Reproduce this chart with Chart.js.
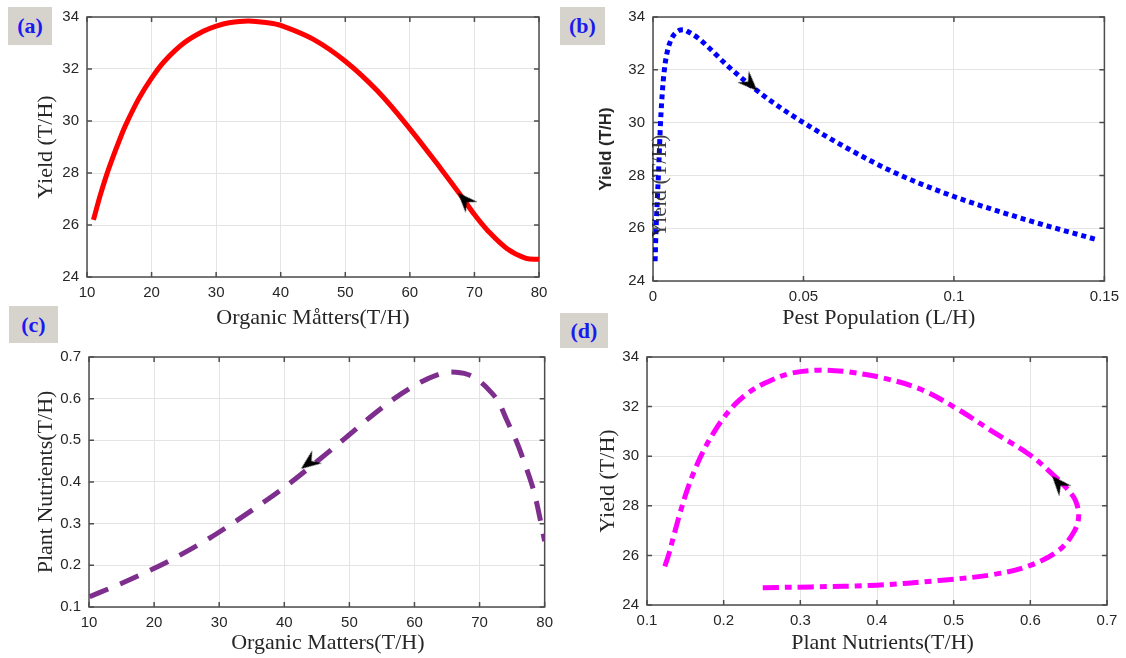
<!DOCTYPE html>
<html>
<head>
<meta charset="utf-8">
<script src="https://cdn.jsdelivr.net/npm/chart.js@4.4.1/dist/chart.umd.min.js"></script>
<style>
  body { margin: 0; background: #fff; width: 1126px; height: 658px; position: relative; overflow: hidden; }
  canvas { position: absolute; }
  .tag {
    position: absolute; background: #d6d3cd; color: #1a1af0;
    font: bold 22px "Liberation Serif", serif;
    display: flex; align-items: center; justify-content: center; z-index: 5;
  }
</style>
</head>
<body>
<div class="tag" style="left:8px;top:7px;width:44px;height:38px">(a)</div>
<div class="tag" style="left:560px;top:7px;width:45px;height:38px">(b)</div>
<div class="tag" style="left:9px;top:306px;width:49px;height:37px">(c)</div>
<div class="tag" style="left:560px;top:313px;width:48px;height:35px">(d)</div>

<canvas id="ga" width="527" height="331" style="left:33px;top:0px"></canvas>
<canvas id="gb" width="530" height="331" style="left:596px;top:0px"></canvas>
<canvas id="gc" width="527" height="316" style="left:33px;top:340px"></canvas>
<canvas id="gd" width="531" height="316" style="left:595px;top:340px"></canvas>

<script>
// (a) yield vs organic matters
const organicA = [11, 12, 13, 14, 15, 16, 18, 20, 22, 25, 28, 30, 32, 35, 38, 40, 45, 50, 55, 60, 65, 68, 70, 72, 75, 78, 80];
const yieldA = [26.2, 27.1, 27.9, 28.6, 29.25, 29.85, 30.85, 31.65, 32.3, 33.0, 33.45, 33.65, 33.78, 33.85, 33.78, 33.68, 33.15, 32.3, 31.15, 29.7, 28.1, 27.1, 26.4, 25.8, 25.1, 24.72, 24.68];
const arrowA = [68.5, 26.96];

// (b) yield vs pest population
const pestB = [0.0007, 0.001, 0.0014, 0.0018, 0.0025, 0.0032, 0.004, 0.005, 0.0065, 0.0085, 0.01, 0.012, 0.015, 0.018, 0.0248, 0.0325, 0.04, 0.05, 0.065, 0.0804, 0.1, 0.1246, 0.148];
const yieldB = [24.75, 25.9, 27.0, 28.0, 30.0, 31.3, 32.2, 32.8, 33.25, 33.48, 33.52, 33.42, 33.2, 32.9, 32.15, 31.4, 30.75, 30.0, 29.0, 28.1, 27.2, 26.3, 25.55];
const arrowB = [0.0323, 31.47];

// (c) plant nutrients vs organic matters
const organicC = [10.1, 14, 18.3, 22, 25.3, 28.5, 31.3, 35.5, 40.0, 44.3, 49.8, 53.6, 57.9, 61, 63.3, 65.5, 68.2, 70, 71.5, 73, 74.2, 75.6, 76.9, 78.5, 80];
const nutrientC = [0.125, 0.15, 0.18, 0.208, 0.236, 0.265, 0.293, 0.337, 0.387, 0.44, 0.511, 0.561, 0.611, 0.64, 0.656, 0.664, 0.658, 0.642, 0.62, 0.59, 0.548, 0.5, 0.446, 0.368, 0.258];
const arrowC = [43.8, 0.446];

// (d) yield vs plant nutrients
const nutrientD = [0.251, 0.315, 0.4, 0.481, 0.552, 0.6, 0.637, 0.656, 0.663, 0.659, 0.647, 0.628, 0.6, 0.552, 0.505, 0.457, 0.41, 0.362, 0.325, 0.287, 0.254, 0.232, 0.215, 0.2, 0.187, 0.175, 0.163, 0.152, 0.143, 0.135, 0.128, 0.1225];
const yieldD = [24.7, 24.73, 24.8, 24.99, 25.23, 25.6, 26.2, 26.9, 27.54, 28.2, 28.72, 29.3, 30.04, 30.97, 31.9, 32.7, 33.14, 33.4, 33.47, 33.34, 32.95, 32.55, 32.1, 31.55, 30.95, 30.3, 29.5, 28.6, 27.7, 26.8, 26.0, 25.5];
const arrowD = [0.637, 28.9];

// tick labels
const yieldTicks = [24, 26, 28, 30, 32, 34];
const organicTicks = [10, 20, 30, 40, 50, 60, 70, 80];
const pestTicks = [0, 0.05, 0.1, 0.15];
const nutrientTicks = [0.1, 0.2, 0.3, 0.4, 0.5, 0.6, 0.7];

Chart.defaults.font.family = '"Liberation Sans", Arial, sans-serif';
Chart.defaults.color = '#262626';

// black arrowhead pointing up, rotated per panel
const flecha = document.createElement('canvas');
flecha.width = 22; flecha.height = 22;
(function () {
    const g = flecha.getContext('2d');
    g.fillStyle = '#000';
    g.beginPath();
    g.moveTo(11, 1);
    g.lineTo(19, 21);
    g.lineTo(11, 14);
    g.lineTo(3, 21);
    g.closePath();
    g.fill();
})();

const cajaPlugin = {
    id: 'caja',
    beforeDatasetsDraw(chart) {
        const { ctx, chartArea: a, scales: { x, y } } = chart;
        ctx.save();
        ctx.strokeStyle = '#4d4d4d';
        ctx.lineWidth = 1.5;
        ctx.strokeRect(a.left, a.top, a.right - a.left, a.bottom - a.top);
        ctx.beginPath();
        x.ticks.forEach(t => {
            const p = x.getPixelForValue(t.value);
            ctx.moveTo(p, a.bottom); ctx.lineTo(p, a.bottom - 5);
            ctx.moveTo(p, a.top); ctx.lineTo(p, a.top + 5);
        });
        y.ticks.forEach(t => {
            const p = y.getPixelForValue(t.value);
            ctx.moveTo(a.left, p); ctx.lineTo(a.left + 5, p);
            ctx.moveTo(a.right, p); ctx.lineTo(a.right - 5, p);
        });
        ctx.stroke();
        ctx.restore();
    }
};

function puntos(xs, ys) {
    return xs.map((v, i) => ({ x: v, y: ys[i] }));
}

function eje(ticks, titulo, fuenteTitulo, tam, padTick) {
    return {
        type: 'linear',
        min: ticks[0],
        max: ticks[ticks.length - 1],
        afterBuildTicks: s => { s.ticks = ticks.map(v => ({ value: v })); },
        afterFit: s => { if (s.isHorizontal()) s.height = tam; else s.width = tam; },
        grid: { color: '#e4e4e4', lineWidth: 1, drawTicks: false },
        border: { display: false },
        ticks: {
            padding: padTick,
            font: { size: 15 },
            color: '#262626',
            maxRotation: 0,
            autoSkip: false,
            callback: v => String(Math.round(v * 1000) / 1000)
        },
        title: { display: true, text: titulo, font: fuenteTitulo, color: '#262626', padding: 0 }
    };
}

const serif = { family: '"Liberation Serif", "Times New Roman", serif', size: 22 };
const sansBold = { family: '"Liberation Sans", Arial, sans-serif', size: 17, weight: 'bold' };

function grafica(id, cfg) {
    return new Chart(document.getElementById(id), {
        type: 'scatter',
        data: {
            datasets: [
                {
                    data: [{ x: cfg.arrow[0], y: cfg.arrow[1] }],
                    pointStyle: flecha,
                    rotation: cfg.giro,
                    pointRadius: 11,
                    showLine: false,
                    order: 0
                },
                {
                    data: puntos(cfg.xs, cfg.ys),
                    showLine: true,
                    pointRadius: 0,
                    borderColor: cfg.color,
                    borderWidth: cfg.ancho,
                    borderDash: cfg.dash,
                    borderCapStyle: 'butt',
                    cubicInterpolationMode: cfg.monotone ? 'monotone' : 'default',
                    tension: 0.35,
                    order: 1
                }
            ]
        },
        options: {
            responsive: false,
            animation: false,
            devicePixelRatio: 1,
            layout: { padding: cfg.pad },
            plugins: { legend: { display: false }, tooltip: { enabled: false } },
            scales: {
                x: eje(cfg.xTicks, cfg.xTitle, serif, cfg.xTam, 7),
                y: eje(cfg.yTicks, cfg.yTitle, cfg.yFont || serif, cfg.yTam, 8)
            }
        },
        plugins: [cajaPlugin].concat(cfg.extra || [])
    });
}

// second, overlapping y label that sits inside panel (b)
const rotuloExtra = {
    id: 'rotuloExtra',
    afterDatasetsDraw(chart) {
        const ctx = chart.ctx;
        ctx.save();
        ctx.translate(64, 186);
        ctx.rotate(-Math.PI / 2);
        ctx.font = '22px "Liberation Serif", serif';
        ctx.fillStyle = 'rgba(30,30,30,0.85)';
        ctx.textAlign = 'center';
        ctx.textBaseline = 'middle';
        ctx.fillText('Yield (T/H)', 0, 0);
        ctx.restore();
    }
};

grafica('ga', {
    xs: organicA, ys: yieldA, arrow: arrowA, giro: -43,
    color: '#ff0000', ancho: 5, dash: [], monotone: false,
    xTicks: organicTicks, yTicks: yieldTicks,
    xTitle: 'Organic Måtters(T/H)', yTitle: 'Yield (T/H)',
    xTam: 54, yTam: 54,
    pad: { top: 14, right: 21, left: 0, bottom: 0 }
});

grafica('gb', {
    xs: pestB, ys: yieldB, arrow: arrowB, giro: 135,
    color: '#0000ff', ancho: 5, dash: [5, 4], monotone: true,
    xTicks: pestTicks, yTicks: yieldTicks,
    xTitle: 'Pest Population (L/H)', yTitle: 'Yield (T/H)', yFont: sansBold,
    xTam: 50, yTam: 57,
    pad: { top: 14, right: 20, left: 0, bottom: 0 },
    extra: [rotuloExtra]
});

grafica('gc', {
    xs: organicC, ys: nutrientC, arrow: arrowC, giro: -127,
    color: '#7e2f8e', ancho: 5, dash: [20, 13], monotone: true,
    xTicks: organicTicks, yTicks: nutrientTicks,
    xTitle: '    Organic Matters(T/H)', yTitle: 'Plant Nutrients(T/H)',
    xTam: 49, yTam: 56,
    pad: { top: 12, right: 11, left: 0, bottom: 0 }
});

grafica('gd', {
    xs: nutrientD, ys: yieldD, arrow: arrowD, giro: -41,
    color: '#ff00ff', ancho: 5, dash: [16, 6, 7, 6], monotone: false,
    xTicks: nutrientTicks, yTicks: yieldTicks,
    xTitle: '  Plant Nutrients(T/H)', yTitle: 'Yield (T/H)',
    xTam: 51, yTam: 52,
    pad: { top: 13, right: 19, left: 0, bottom: 0 }
});
</script>
</body>
</html>
